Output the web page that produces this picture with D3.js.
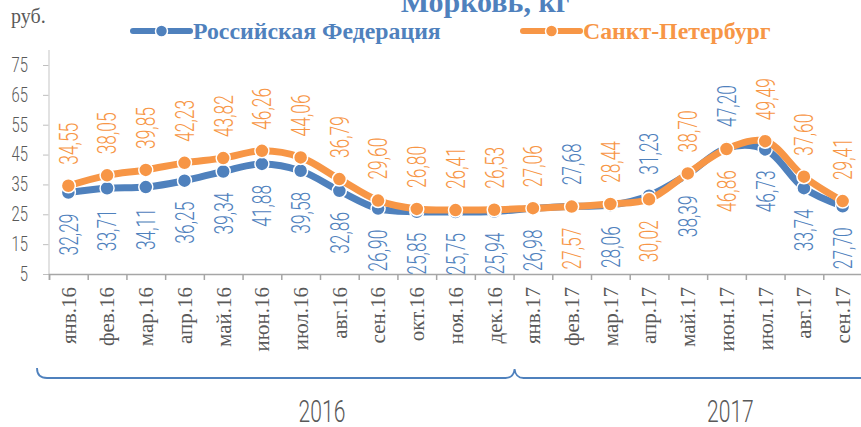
<!DOCTYPE html>
<html>
<head>
<meta charset="utf-8">
<script src="https://cdn.jsdelivr.net/npm/d3@7"></script>
<style>
  body { margin: 0; background: #fff; }
  svg { display: block; }
</style>
</head>
<body>
<div id="chart"></div>
<script>
// data
var months = ["янв.16", "фев.16", "мар.16", "апр.16", "май.16", "июн.16", "июл.16", "авг.16",
  "сен.16", "окт.16", "ноя.16", "дек.16", "янв.17", "фев.17", "мар.17", "апр.17", "май.17",
  "июн.17", "июл.17", "авг.17", "сен.17"];
var rfValues = [32.29, 33.71, 34.11, 36.25, 39.34, 41.88, 39.58, 32.86, 26.90, 25.85, 25.75, 25.94,
  26.98, 27.68, 28.06, 31.23, 38.39, 47.20, 46.73, 33.74, 27.70];
var spbValues = [34.55, 38.05, 39.85, 42.23, 43.82, 46.26, 44.06, 36.79, 29.60, 26.80, 26.41, 26.53,
  27.06, 27.57, 28.44, 30.02, 38.70, 46.86, 49.49, 37.60, 29.41];
var yTicks = [5, 15, 25, 35, 45, 55, 65, 75];
var years = ["2016", "2017"];
var yearCounts = [12, 9];

var svgWidth = 861;
var svgHeight = 427;

var blue = "#4f81bd";
var orange = "#f79646";
var gray = "#595959";
var thinFont = "Roboto, 'Liberation Sans Narrow', sans-serif";

var svg = d3.select("#chart")
  .append("svg")
  .attr("width", svgWidth)
  .attr("height", svgHeight);

var plotLeft = 49, plotRight = 862, plotTop = 65, plotBottom = 274;

// scales
var xScale = d3.scaleBand()
  .domain(months)
  .range([plotLeft, plotRight]);

var xEdge = d3.scaleLinear()
  .domain([0, months.length])
  .range([plotLeft, plotRight]);

var yScale = d3.scaleLinear()
  .domain([5, 75])
  .range([plotBottom, plotTop]);

var cx = d => xScale(d) + xScale.bandwidth() / 2;

// y axis
var yAxis = svg.append("g")
  .attr("transform", `translate(${plotLeft}, 0)`)
  .call(d3.axisLeft(yScale).tickValues(yTicks).tickSize(6).tickFormat(d3.format("d")));
yAxis.select(".domain").remove();
yAxis.selectAll(".tick line").attr("stroke", "#bfbfbf");
yAxis.selectAll(".tick text")
  .attr("x", 0)
  .attr("transform", "translate(-21, 0) scale(0.74, 1)")
  .attr("fill", gray)
  .style("font-family", thinFont)
  .style("font-weight", 300)
  .style("font-size", "20px");
svg.append("line")
  .attr("x1", plotLeft).attr("x2", plotLeft)
  .attr("y1", 50).attr("y2", plotBottom)
  .attr("stroke", "#d9d9d9").attr("stroke-width", 1.5);

// x axis: ticks between categories
var xAxis = svg.append("g")
  .attr("transform", `translate(0, ${plotBottom})`)
  .call(d3.axisBottom(xEdge).tickValues(d3.range(months.length + 1)).tickSize(6).tickFormat(""));
xAxis.select(".domain").attr("stroke", "#a6a6a6").attr("stroke-width", 1.5);
xAxis.selectAll(".tick line").attr("stroke", "#a6a6a6").attr("stroke-width", 1.5);

svg.append("g").selectAll("text")
  .data(months)
  .enter()
  .append("text")
  .attr("transform", d => `translate(${cx(d)}, 287) rotate(-90)`)
  .attr("dy", "0.35em")
  .attr("text-anchor", "end")
  .attr("fill", gray)
  .style("font-family", "'Liberation Serif', 'Times New Roman', serif")
  .style("font-size", "21px")
  .text(d => d);

// brace under the months
var splitX = xEdge(yearCounts[0]);
var braceY = 378;
svg.append("path")
  .attr("d", `M${plotLeft - 12},368 Q${plotLeft - 12},${braceY} ${plotLeft - 2},${braceY}`
    + ` L${splitX - 8},${braceY} Q${splitX},${braceY} ${splitX + 1},369`
    + ` Q${splitX + 2},${braceY} ${splitX + 10},${braceY} L${svgWidth + 5},${braceY}`)
  .attr("fill", "none")
  .attr("stroke", blue)
  .attr("stroke-width", 1.8);

// year labels
var yearX = [xEdge(7.05), xEdge(17.6)];
svg.append("g").selectAll("text")
  .data(years)
  .enter()
  .append("text")
  .attr("transform", (d, i) => `translate(${yearX[i]}, 422) scale(0.68, 1)`)
  .attr("text-anchor", "middle")
  .attr("fill", gray)
  .style("font-family", thinFont)
  .style("font-weight", 300)
  .style("font-size", "31px")
  .text(d => d);

// lines
var line = d3.line()
  .x((d, i) => cx(months[i]))
  .y(d => yScale(d))
  .curve(d3.curveCatmullRom.alpha(0.5));

var series = [
  { name: "Российская Федерация", values: rfValues, other: spbValues, color: blue },
  { name: "Санкт-Петербург", values: spbValues, other: rfValues, color: orange }
];

series.forEach(function(s) {
  svg.append("path")
    .datum(s.values)
    .attr("fill", "none")
    .attr("stroke", s.color)
    .attr("stroke-width", 7)
    .attr("stroke-linecap", "round")
    .attr("d", line);

  svg.append("g").selectAll("circle")
    .data(s.values)
    .enter()
    .append("circle")
    .attr("cx", (d, i) => cx(months[i]))
    .attr("cy", d => yScale(d))
    .attr("r", 7)
    .attr("fill", s.color)
    .attr("stroke", "#fff")
    .attr("stroke-width", 1.5);
});

// data labels: the higher value of the two goes above the point, the lower below
series.forEach(function(s) {
  svg.append("g").selectAll("text")
    .data(s.values)
    .enter()
    .append("text")
    .attr("transform", function(d, i) {
      var above = d >= s.other[i];
      var y = yScale(d) + (above ? -21 : 21);
      return `translate(${cx(months[i])}, ${y}) rotate(-90) scale(0.67, 1)`;
    })
    .attr("text-anchor", (d, i) => d >= s.other[i] ? "start" : "end")
    .attr("dy", "0.36em")
    .attr("fill", s.color)
    .style("font-family", thinFont)
    .style("font-weight", 300)
    .style("font-size", "26px")
    .text(d => d3.format(".2f")(d).replace(".", ","));
});

// title, cut at the top like the original
svg.append("text")
  .attr("x", 485)
  .attr("y", 12)
  .attr("text-anchor", "middle")
  .attr("fill", blue)
  .style("font-family", "'Liberation Serif', 'Times New Roman', serif")
  .style("font-weight", "bold")
  .style("font-size", "30px")
  .text("Морковь, кг");

svg.append("text")
  .attr("x", 11)
  .attr("y", 23)
  .attr("fill", gray)
  .style("font-family", "'Liberation Serif', 'Times New Roman', serif")
  .style("font-size", "20px")
  .text("руб.");

// legend
var legendX = [133, 523];
series.forEach(function(s, i) {
  var g = svg.append("g").attr("transform", `translate(${legendX[i]}, 31)`);
  g.append("line")
    .attr("x1", 0).attr("x2", 57)
    .attr("stroke", s.color).attr("stroke-width", 6).attr("stroke-linecap", "round");
  g.append("circle")
    .attr("cx", 28.5).attr("r", 6)
    .attr("fill", s.color).attr("stroke", "#fff").attr("stroke-width", 1.5);
  g.append("text")
    .attr("x", 60)
    .attr("dy", "0.35em")
    .attr("fill", s.color)
    .style("font-family", "'Liberation Serif', 'Times New Roman', serif")
    .style("font-weight", "bold")
    .style("font-size", "23.8px")
    .text(s.name);
});
</script>
</body>
</html>
